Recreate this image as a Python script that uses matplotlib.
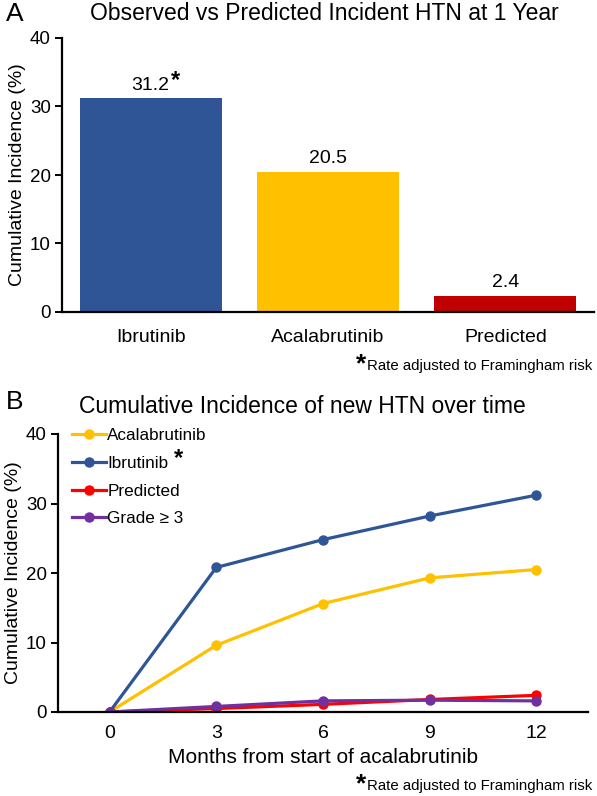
import matplotlib
matplotlib.use("Agg")
import matplotlib.pyplot as plt

plt.rcParams['font.family'] = ['Liberation Sans', 'DejaVu Sans']

# ---- data ----
bar_categories = ["Ibrutinib", "Acalabrutinib", "Predicted"]
bar_values = [31.2, 20.5, 2.4]
bar_labels = ["31.2", "20.5", "2.4"]

months = [0, 3, 6, 9, 12]
acala = [0, 9.6, 15.6, 19.3, 20.5]
ibru = [0, 20.8, 24.8, 28.2, 31.2]
predicted = [0, 0.5, 1.1, 1.8, 2.4]
grade3 = [0, 0.8, 1.6, 1.7, 1.6]
yticks = [0, 10, 20, 30, 40]

bar_colors = ["#2F5597", "#FFC000", "#C00000"]

W, H = 597, 796
fig = plt.figure(figsize=(W / 100, H / 100), dpi=100)

def px_axes(l, t, r, b):
    return fig.add_axes([l / W, 1 - b / H, (r - l) / W, (b - t) / H])

def style(ax):
    for s in ["top", "right"]:
        ax.spines[s].set_visible(False)
    for s in ["left", "bottom"]:
        ax.spines[s].set_linewidth(1.6)
        ax.spines[s].set_color("black")
    ax.set_ylim(0, 40)
    ax.set_yticks(yticks)
    ax.tick_params(axis="y", length=5, width=1.4, labelsize=13.5, pad=3)
    ax.tick_params(axis="x", length=0, labelsize=14, pad=12)
    ax.set_ylabel("Cumulative Incidence (%)", fontsize=14, labelpad=3)

# ---- Panel A ----
axA = px_axes(62, 38, 594, 312)
style(axA)
bars = axA.bar(range(len(bar_categories)), bar_values, width=0.8, color=bar_colors)
axA.set_xlim(-0.5, 2.5)
axA.set_xticks(range(len(bar_categories)))
axA.set_xticklabels(bar_categories)
txts = []
for i, (v, lab) in enumerate(zip(bar_values, bar_labels)):
    txts.append(axA.text(i, v + 0.6, lab, ha="center", va="bottom", fontsize=14))
fig.text(6 / W, 1 - 14 / H, "A", fontsize=19, va="center", ha="left")
fig.text(324 / W, 1 - 14 / H, "Observed vs Predicted Incident HTN at 1 Year",
         fontsize=16.5, va="center", ha="center")

# ---- Panel B ----
axB = px_axes(58, 434, 588, 712)
style(axB)
axB.set_xlim(-1.45, 13.45)
axB.set_xticks(months)
axB.tick_params(axis="x", pad=9)
axB.plot(months, acala, color="#FFC000", lw=2.3, marker="o", ms=6.5, label="Acalabrutinib")
axB.plot(months, ibru, color="#2F5597", lw=2.3, marker="o", ms=6.5, label="Ibrutinib")
axB.plot(months, predicted, color="#FF0000", lw=2.3, marker="o", ms=6.5, label="Predicted")
axB.plot(months, grade3, color="#7030A0", lw=2.3, marker="o", ms=6.5, label="Grade \u2265 3")
axB.set_xlabel("Months from start of acalabrutinib", fontsize=15, labelpad=5)
leg = axB.legend(loc="upper left", bbox_to_anchor=(0.014, 1.045), frameon=False,
                 fontsize=12.3, handlelength=2.0, handletextpad=0.05,
                 labelspacing=0.74, borderaxespad=0)
fig.text(6 / W, 1 - 402 / H, "B", fontsize=19, va="center", ha="left")
fig.text(302 / W, 1 - 406 / H, "Cumulative Incidence of new HTN over time",
         fontsize=16.5, va="center", ha="center")

# footnotes
for y in (366, 786):
    fig.text(592 / W, 1 - y / H, "Rate adjusted to Framingham risk", fontsize=10.8,
             ha="right", va="center")

fig.canvas.draw()
r = fig.canvas.get_renderer()
# asterisks before footnotes
for t in list(fig.texts):
    if t.get_text().startswith("Rate"):
        bb = t.get_window_extent(r)
        fig.text((bb.x0 - 1) / W, (bb.y0 + bb.height * 0.6) / H, "*", fontsize=19,
                 ha="right", va="center", fontweight="bold")
# asterisk after 31.2
bb = txts[0].get_window_extent(r)
fig.text((bb.x1 + 1) / W, (bb.y1 - 3) / H, "*", fontsize=17, ha="left", va="center",
         fontweight="bold")
# asterisk after Ibrutinib legend entry
for t in leg.get_texts():
    if t.get_text() == "Ibrutinib":
        bb = t.get_window_extent(r)
        fig.text((bb.x1 + 6) / W, (bb.y1 - 3) / H, "*", fontsize=17, ha="left",
                 va="center", fontweight="bold")

fig.savefig("out.png", dpi=100)
